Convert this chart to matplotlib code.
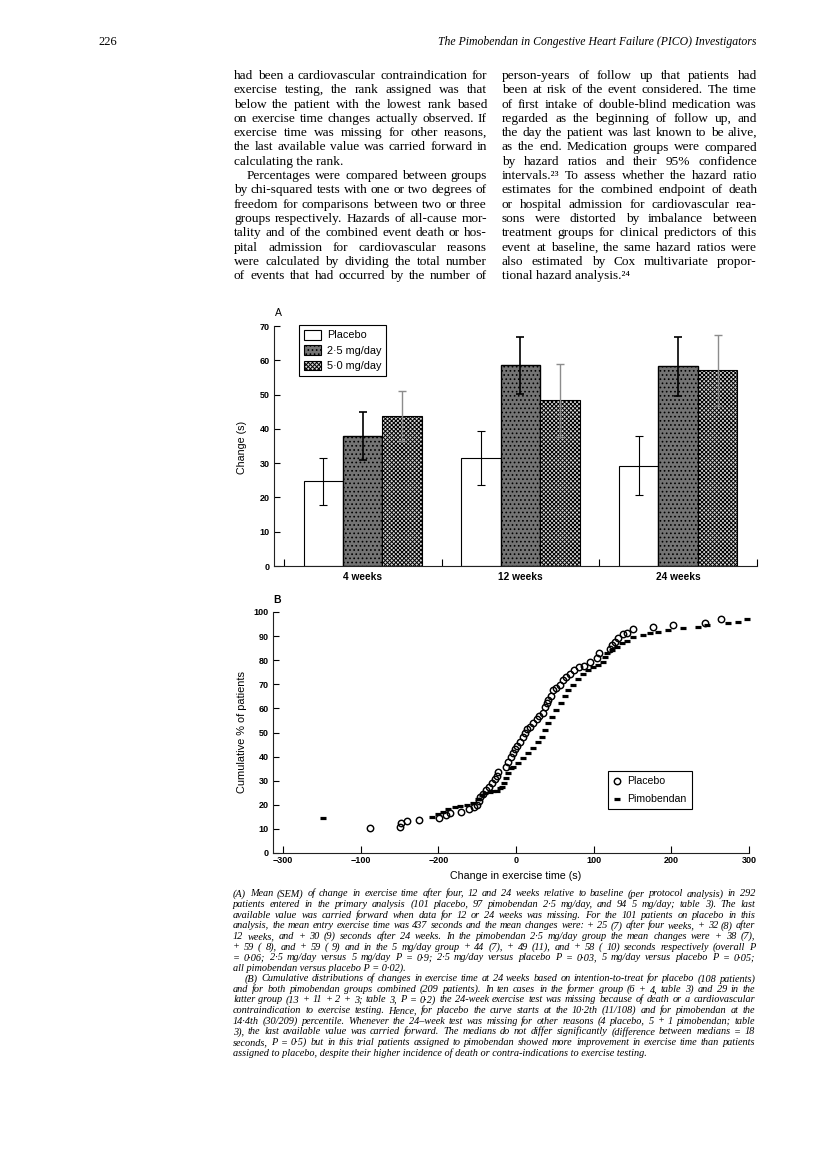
import numpy as np
import matplotlib
matplotlib.use('Agg')
import matplotlib.pyplot as plt
from matplotlib.patches import Patch

W, H = 816, 1161

# Figure A: mean (SEM) change in exercise time
periods = ['4 weeks', '12 weeks', '24 weeks']
placebo_mean = [24.7, 31.5, 29.2]
placebo_sem = [6.9, 7.9, 8.6]
low_mean = [37.9, 58.5, 58.2]
low_sem = [6.9, 8.4, 8.7]
high_mean = [43.7, 48.3, 57.1]
high_sem = [7.3, 10.7, 10.4]
groups_a = ['Placebo', '2·5 mg/day', '5·0 mg/day']

# Figure B: cumulative distributions at 24 weeks
placebo_x = [-188, -150, -148, -141, -125, -99, -90, -85, -71, -60, -54, -50, -48, -46, -42,
             -39, -35, -31, -27, -25, -23, -12.9, -9.9, -6.8, -3.4, -1.3, 1.7, 5.1, 8.6, 11.6,
             14.6, 18.0, 22.3, 26.6, 30.0, 34.4, 37.8, 39.5, 41.6, 44.6, 47.2, 51.5, 56.6, 60.1,
             64.4, 69.5, 74.6, 81.5, 87.5, 95.2, 104.7, 107.3, 121, 123.1, 127.4, 131.7, 137.3,
             142.4, 151, 176, 202.5, 243.6, 263.4]
placebo_y = [10.5, 10.9, 12.3, 13.1, 13.9, 14.6, 15.6, 16.7, 17.1, 18.2, 18.9, 19.9, 21.7, 23.1, 24.5,
             26.1, 27.5, 29.1, 30.5, 31.9, 33.7, 35.8, 37.9, 40.0, 41.4, 43.0, 44.4, 46.2, 48.3, 49.9,
             51.3, 52.4, 53.8, 55.5, 56.8, 58.2, 60.7, 62.1, 63.5, 65.1, 67.6, 68.3, 69.7, 71.8,
             72.9, 74.3, 75.9, 77.0, 77.6, 79.4, 80.8, 82.9, 84.5, 86.3, 87.7, 89.1, 90.7,
             91.2, 92.8, 93.9, 94.7, 95.6, 97.2]
pimo_x = [-248, -108.5, -100, -94, -88, -79, -72, -63.5, -55.7, -48.5, -44.1, -40, -33, -29.2, -25,
          -20.6, -18.4, -15.4, -12.9, -9.9, -6.8, -3.4, 3.0, 9.4, 15.8, 22.3, 28.7, 33.1, 37.3, 41.6,
          45.9, 51.5, 57.5, 63.1, 67.3, 73.7, 80.2, 86.6, 93.1, 99.5, 105.9, 111.6, 114.5, 117.5, 123.1,
          129.6, 136, 142.4, 151, 163.9, 172.5, 183.1, 196, 215.3, 234.6, 245.4, 273.2, 286.1, 297]
pimo_y = [14.6, 14.9, 16.0, 17.2, 18.4, 19.0, 19.4, 19.8, 20.6, 22.3, 24.1, 25.0, 25.5, 25.7, 25.9,
          27.0, 27.5, 29.2, 31.0, 33.3, 35.1, 35.8, 37.5, 39.3, 41.4, 43.4, 46.2, 48.3, 51.0, 53.8,
          56.6, 59.3, 62.1, 65.1, 67.6, 69.7, 72.1, 74.3, 75.9, 77.0, 78.0, 79.4, 81.5, 83.1, 84.2,
          85.3, 87.0, 88.1, 89.5, 90.5, 91.2, 91.8, 92.5, 93.2, 93.6, 94.6, 95.6, 96.0, 97.0]
b_ticks = [-300, -200, -100, 0, 100, 200, 300]
b_ticklabels = ['\u2212300', '\u2212100', '\u2212200', '0', '100', '200', '300']

# page text
header_left = '226'
header_right = 'The Pimobendan in Congestive Heart Failure (PICO) Investigators'
left_col = [
    'had been a cardiovascular contraindication for',
    'exercise testing, the rank assigned was that',
    'below the patient with the lowest rank based',
    'on exercise time changes actually observed. If',
    'exercise time was missing for other reasons,',
    'the last available value was carried forward in',
    'calculating the rank.',
    'Percentages were compared between groups',
    'by chi-squared tests with one or two degrees of',
    'freedom for comparisons between two or three',
    'groups respectively. Hazards of all-cause mor-',
    'tality and of the combined event death or hos-',
    'pital admission for cardiovascular reasons',
    'were calculated by dividing the total number',
    'of events that had occurred by the number of',
]
right_col = [
    'person-years of follow up that patients had',
    'been at risk of the event considered. The time',
    'of first intake of double-blind medication was',
    'regarded as the beginning of follow up, and',
    'the day the patient was last known to be alive,',
    'as the end. Medication groups were compared',
    'by hazard ratios and their 95% confidence',
    'intervals.\u00b2\u00b3 To assess whether the hazard ratio',
    'estimates for the combined endpoint of death',
    'or hospital admission for cardiovascular rea-',
    'sons were distorted by imbalance between',
    'treatment groups for clinical predictors of this',
    'event at baseline, the same hazard ratios were',
    'also estimated by Cox multivariate propor-',
    'tional hazard analysis.\u00b2\u2074',
]
caption = [
    '(A) Mean (SEM) of change in exercise time after four, 12 and 24 weeks relative to baseline (per protocol analysis) in 292',
    'patients entered in the primary analysis (101 placebo, 97 pimobendan 2·5 mg/day, and 94 5 mg/day; table 3). The last',
    'available value was carried forward when data for 12 or 24 weeks was missing. For the 101 patients on placebo in this',
    'analysis, the mean entry exercise time was 437 seconds and the mean changes were: + 25 (7) after four weeks, + 32 (8) after',
    '12 weeks, and + 30 (9) seconds after 24 weeks. In the pimobendan 2·5 mg/day group the mean changes were + 38 (7),',
    '+ 59 ( 8), and + 59 ( 9) and in the 5 mg/day group + 44 (7), + 49 (11), and + 58 ( 10) seconds respectively (overall P',
    '= 0·06; 2·5 mg/day versus 5 mg/day P = 0·9; 2·5 mg/day versus placebo P = 0·03, 5 mg/day versus placebo P = 0·05;',
    'all pimobendan versus placebo P = 0·02).',
    '(B) Cumulative distributions of changes in exercise time at 24 weeks based on intention-to-treat for placebo (108 patients)',
    'and for both pimobendan groups combined (209 patients). In ten cases in the former group (6 + 4, table 3) and 29 in the',
    'latter group (13 + 11 + 2 + 3; table 3, P = 0·2) the 24-week exercise test was missing because of death or a cardiovascular',
    'contraindication to exercise testing. Hence, for placebo the curve starts at the 10·2th (11/108) and for pimobendan at the',
    '14·4th (30/209) percentile. Whenever the 24\u2013week test was missing for other reasons (4 placebo, 5 + 1 pimobendan; table',
    '3), the last available value was carried forward. The medians do not differ significantly (difference between medians = 18',
    'seconds, P = 0·5) but in this trial patients assigned to pimobendan showed more improvement in exercise time than patients',
    'assigned to placebo, despite their higher incidence of death or contra-indications to exercise testing.',
]

serif = ['Liberation Serif', 'DejaVu Serif']
sans = ['Liberation Sans', 'DejaVu Sans']
plt.rcParams['hatch.linewidth'] = 0.7

fig = plt.figure(figsize=(W / 100, H / 100), dpi=100)
renderer = fig.canvas.get_renderer()


def put(x, y, s, **kw):
    return fig.text(x / W, 1 - y / H, s, **kw)


def width(s, **kw):
    t = put(0, 0, s, **kw)
    w = t.get_window_extent(renderer).width
    t.remove()
    return w


def fit_size(lines, avail, base, cap, **kw):
    # largest size at which every justified line still fits its column
    ratio = max(width(s, fontsize=base, **kw) / a for s, a in zip(lines, avail) if a)
    return min(cap, base / ratio * 0.995)


def text_line(s, x0, x1, y, justify=True, **kw):
    words = s.split()
    if not justify or len(words) < 2:
        put(x0, y, s, va='baseline', **kw)
        return
    ws = [width(w, **kw) for w in words]
    gap = (x1 - x0 - sum(ws)) / (len(words) - 1)
    x = x0
    for w, wd in zip(words, ws):
        put(x, y, w, va='baseline', **kw)
        x += wd + gap


# header
put(98, 45, header_left, family=serif, fontsize=9, va='baseline')
put(757, 45, header_right, family=serif, style='italic', fontsize=8.5, va='baseline', ha='right')

# body columns
left_avail = [0 if i == 6 else (487 - 234 - (13 if i == 7 else 0)) for i in range(len(left_col))]
right_avail = [0 if i == len(right_col) - 1 else 757 - 502 for i in range(len(right_col))]
body_size = fit_size(left_col + right_col, left_avail + right_avail, 9, 10, family=serif)
body_kw = dict(family=serif, fontsize=body_size)
for i, s in enumerate(left_col):
    indent = 13 if i == 7 else 0
    text_line(s, 234 + indent, 487, 79 + i * 14.3, justify=(i != 6), **body_kw)
for i, s in enumerate(right_col):
    text_line(s, 502, 757, 79 + i * 14.3, justify=(i != len(right_col) - 1), **body_kw)

# caption
cap_avail = [0 if i in (7, 15) else (755 - 233 - (12 if i == 8 else 0)) for i in range(len(caption))]
cap_size = fit_size(caption, cap_avail, 7, 7.9, family=serif, style='italic')
cap_kw = dict(family=serif, style='italic', fontsize=cap_size)
for i, s in enumerate(caption):
    indent = 12 if i == 8 else 0
    text_line(s, 233 + indent, 755, 896.5 + i * 10.6, justify=(i not in (7, 15)), **cap_kw)

# ---- Figure A ----
axA = fig.add_axes([274 / W, 1 - 566 / H, (757 - 274) / W, (566 - 326) / H])
x = np.arange(len(periods))
bw = 0.25
axA.bar(x - bw, placebo_mean, bw, color='white', edgecolor='black', lw=0.8)
axA.bar(x, low_mean, bw, color='#747474', edgecolor='black', lw=1.0, hatch='....')
axA.bar(x + bw, high_mean, bw, color='#d8d8d8', edgecolor='black', lw=0.8, hatch='xxxxxxxx')
axA.errorbar(x - bw, placebo_mean, yerr=placebo_sem, fmt='none', ecolor='black',
             elinewidth=0.8, capsize=3, capthick=0.8)
axA.errorbar(x, low_mean, yerr=low_sem, fmt='none', ecolor='black',
             elinewidth=1.2, capsize=3, capthick=1.2)
axA.errorbar(x + bw, high_mean, yerr=high_sem, fmt='none', ecolor='#8c8c8c',
             elinewidth=1.0, capsize=3, capthick=1.0)
axA.set_xlim(-0.563, 2.5)
axA.set_ylim(0, 70)
for sp in ['top', 'right']:
    axA.spines[sp].set_visible(False)
for sp in ['left', 'bottom']:
    axA.spines[sp].set_linewidth(0.8)
    axA.spines[sp].set_color('#222222')
axA.set_yticks(range(0, 71, 10))
axA.set_xticks([-0.5, 0.5, 1.5, 2.5])
axA.set_xticklabels([])
axA.set_xticks(x, periods, minor=True)
axA.tick_params(axis='y', direction='in', length=4, width=0.8, labelsize=6.5, pad=3)
axA.tick_params(axis='x', which='major', direction='in', length=5, width=0.8)
axA.tick_params(axis='x', which='minor', length=0, labelsize=7.3, pad=4)
for lab in axA.get_yticklabels() + axA.get_xticklabels(minor=True):
    lab.set_fontweight('bold')
    lab.set_family(sans)
handles_a = [Patch(facecolor='white', edgecolor='black', lw=0.8),
             Patch(facecolor='#747474', edgecolor='black', lw=0.8, hatch='....'),
             Patch(facecolor='#d8d8d8', edgecolor='black', lw=0.8, hatch='xxxxxxxx')]
legA = axA.legend(handles_a, groups_a, loc='upper left', bbox_to_anchor=(299 / W, 1 - 325 / H),
                  bbox_transform=fig.transFigure, borderaxespad=0, fancybox=False,
                  edgecolor='black', framealpha=1, prop={'family': sans, 'size': 7.8},
                  handlelength=1.6, handleheight=1.0, borderpad=0.45, labelspacing=0.45,
                  handletextpad=0.5)
legA.get_frame().set_linewidth(0.8)
put(278, 313, 'A', family=sans, fontsize=7.5, ha='center', va='center')
put(242, 447, 'Change (s)', family=sans, fontsize=7.7, rotation=90, ha='center', va='center')

# ---- Figure B ----
axB = fig.add_axes([273 / W, 1 - 853 / H, (749 - 273) / W, (853 - 612) / H])
axB.plot(placebo_x, placebo_y, 'o', mfc='none', mec='black', ms=4.6, mew=1.05, ls='none',
         label='Placebo', clip_on=False)
axB.plot(pimo_x, pimo_y, '_', color='black', ms=3.8, mew=2.3, ls='none',
         label='Pimobendan', clip_on=False)
axB.set_xlim(-312.9, 300)
axB.set_ylim(0, 100)
for sp in ['top', 'right']:
    axB.spines[sp].set_visible(False)
for sp in ['left', 'bottom']:
    axB.spines[sp].set_linewidth(0.8)
    axB.spines[sp].set_color('#222222')
axB.set_yticks(range(0, 101, 10))
axB.set_xticks(b_ticks, b_ticklabels)
axB.tick_params(axis='y', direction='in', length=4, width=0.8, labelsize=6.5, pad=3)
axB.tick_params(axis='x', direction='in', length=5, width=0.8, labelsize=6.5, pad=2)
for lab in axB.get_yticklabels() + axB.get_xticklabels():
    lab.set_fontweight('bold')
    lab.set_family(sans)
legB = axB.legend(loc='upper left', bbox_to_anchor=(608 / W, 1 - 771 / H),
                  bbox_transform=fig.transFigure, borderaxespad=0, fancybox=False,
                  edgecolor='black', framealpha=1, prop={'family': sans, 'size': 7.6},
                  handlelength=0.7, borderpad=0.5, labelspacing=0.75, handletextpad=0.6)
legB.get_frame().set_linewidth(0.8)
put(277, 600, 'B', family=sans, fontsize=7.5, fontweight='bold', ha='center', va='center')
put(242, 732, 'Cumulative % of patients', family=sans, fontsize=7.9, rotation=90,
    ha='center', va='center')
put(516, 876, 'Change in exercise time (s)', family=sans, fontsize=7.7, ha='center', va='center')

fig.savefig('out.png', dpi=100)
